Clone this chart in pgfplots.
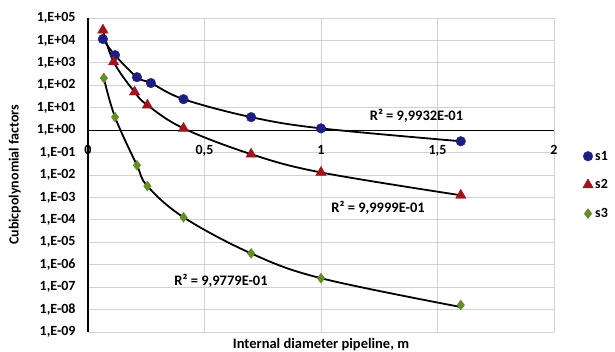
\documentclass[border=0pt]{standalone}
\usepackage{fontspec}
\setmainfont{Carlito}
\usepackage{pgfplots}
\pgfplotsset{compat=1.18}
\definecolor{sone}{RGB}{30,30,130}
\definecolor{stwo}{RGB}{160,20,30}
\definecolor{sthree}{RGB}{100,140,40}
\begin{document}
\begin{tikzpicture}
\useasboundingbox (-88pt,-20pt) rectangle (527pt,332pt);
\begin{axis}[at={(0,0)}, anchor=south west, scale only axis, width=466pt, height=314pt,
 xmin=0, xmax=2, ymode=log, log basis y=10, ymin=1e-9, ymax=1e5,
 xtick={0,0.5,1,1.5,2}, xticklabels={0,{0,5},1,{1,5},2},
 ytick={1e-9,1e-8,1e-7,1e-6,1e-5,1e-4,1e-3,1e-2,1e-1,1,1e1,1e2,1e3,1e4,1e5},
 yticklabels={{1,E-09},{1,E-08},{1,E-07},{1,E-06},{1,E-05},{1,E-04},{1,E-03},{1,E-02},{1,E-01},{1,E+00},{1,E+01},{1,E+02},{1,E+03},{1,E+04},{1,E+05}},
 grid=major, grid style={gray!35, line width=0.8pt},
 axis x line*=bottom, axis y line*=left,
 x axis line style={draw=none}, y axis line style={line width=1.4pt, black},
 major tick length=0pt,
 tick label style={font=\fontsize{14}{16}\selectfont\bfseries},
 xticklabel style={yshift=190pt},
 yticklabel style={xshift=-9pt},
 xlabel={Internal diameter pipeline, m},
 xlabel style={font=\fontsize{14.5}{17}\selectfont\bfseries, at={(axis description cs:0.5,0)}, anchor=center, yshift=-13pt},
 ylabel={Cubicpolynomial factors},
 ylabel style={font=\fontsize{14}{17}\selectfont\bfseries, at={(axis description cs:-0.157,0.5)}, anchor=center},
 legend style={at={(1.055,0.59)}, anchor=north west, draw=none, fill=none, font=\fontsize{14}{16}\selectfont\bfseries, row sep=14pt},
 legend cell align=left,
 clip=false,
]
\addplot[black, line width=1.2pt, forget plot] coordinates {(0,1) (2,1)};
\addplot[only marks, mark=*, mark size=4.8pt, color=sone] coordinates {
(0.064,1.15e4) (0.116,2.2e3) (0.21,230) (0.27,126) (0.41,24) (0.70,3.8) (1.0,1.2) (1.6,0.32)};
\addlegendentry{s1}
\addplot[only marks, mark=triangle*, mark size=6pt, color=stwo] coordinates {
(0.064,2.9e4) (0.11,1.1e3) (0.20,50) (0.255,13) (0.41,1.2) (0.70,0.085) (1.0,0.013) (1.6,1.25e-3)};
\addlegendentry{s2}
\addplot[only marks, mark=diamond*, mark size=5pt, color=sthree] coordinates {
(0.068,210) (0.116,3.8) (0.21,0.027) (0.255,3.2e-3) (0.41,1.3e-4) (0.70,3.2e-6) (1.0,2.5e-7) (1.6,1.6e-8)};
\addlegendentry{s3}
\addplot[black, line width=1.8pt, smooth, tension=0.6, forget plot] coordinates {
(0.064,1.15e4) (0.116,2.2e3) (0.21,230) (0.27,126) (0.41,24) (0.70,3.8) (1.0,1.2) (1.6,0.32)};
\addplot[black, line width=1.8pt, smooth, tension=0.6, forget plot] coordinates {
(0.064,2.9e4) (0.11,1.1e3) (0.20,50) (0.255,13) (0.41,1.2) (0.70,0.085) (1.0,0.013) (1.6,1.25e-3)};
\addplot[black, line width=1.8pt, smooth, tension=0.6, forget plot] coordinates {
(0.068,210) (0.116,3.8) (0.21,0.027) (0.255,3.2e-3) (0.41,1.3e-4) (0.70,3.2e-6) (1.0,2.5e-7) (1.6,1.3e-8)};
\node[font=\fontsize{14.5}{17}\selectfont\bfseries] at (axis cs:1.41,4.2) {R² = 9,9932E-01};
\node[font=\fontsize{14.5}{17}\selectfont\bfseries] at (axis cs:1.245,3.6e-4) {R² = 9,9999E-01};
\node[font=\fontsize{14.5}{17}\selectfont\bfseries] at (axis cs:0.571,2e-7) {R² = 9,9779E-01};
\end{axis}
\end{tikzpicture}
\end{document}
